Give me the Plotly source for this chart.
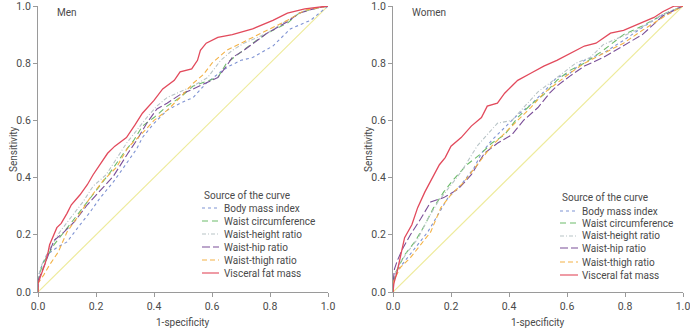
import plotly.graph_objects as go

# ---------------- data ----------------
series_names = ["Body mass index", "Waist circumference", "Waist-height ratio",
                "Waist-hip ratio", "Waist-thigh ratio", "Visceral fat mass"]
panel_titles = ["Men", "Women"]
tick_vals = [0.0, 0.2, 0.4, 0.6, 0.8, 1.0]
tick_text = ["0.0", "0.2", "0.4", "0.6", "0.8", "1.0"]
diag_x = [0, 1]
diag_y = [0, 1]

# Men
men_bmi_x = [0, 0, 0.014, 0.03, 0.065, 0.10, 0.145, 0.18, 0.215, 0.26, 0.295, 0.34, 0.36, 0.40, 0.445, 0.49, 0.535, 0.58, 0.63, 0.66, 0.70, 0.74, 0.81, 0.87, 0.94, 1]
men_bmi_y = [0, 0.05, 0.095, 0.13, 0.155, 0.175, 0.235, 0.28, 0.33, 0.385, 0.435, 0.50, 0.54, 0.59, 0.635, 0.66, 0.68, 0.73, 0.77, 0.79, 0.81, 0.82, 0.86, 0.92, 0.95, 1]
men_wc_x = [0, 0, 0.02, 0.055, 0.09, 0.135, 0.17, 0.215, 0.25, 0.295, 0.33, 0.36, 0.40, 0.445, 0.49, 0.535, 0.58, 0.62, 0.65, 0.70, 0.74, 0.79, 0.86, 0.90, 0.95, 1]
men_wc_y = [0, 0.05, 0.105, 0.165, 0.21, 0.27, 0.315, 0.375, 0.42, 0.485, 0.53, 0.58, 0.61, 0.65, 0.68, 0.72, 0.735, 0.75, 0.80, 0.84, 0.87, 0.905, 0.94, 0.975, 0.99, 1]
men_whtr_x = [0, 0, 0.013, 0.04, 0.075, 0.11, 0.155, 0.19, 0.235, 0.305, 0.34, 0.375, 0.41, 0.445, 0.49, 0.535, 0.585, 0.63, 0.67, 0.71, 0.79, 0.86, 0.92, 1]
men_whtr_y = [0, 0.05, 0.095, 0.15, 0.21, 0.255, 0.315, 0.37, 0.41, 0.52, 0.565, 0.61, 0.65, 0.68, 0.70, 0.72, 0.75, 0.81, 0.845, 0.87, 0.905, 0.95, 0.985, 1]
men_whr_x = [0, 0, 0.013, 0.03, 0.055, 0.09, 0.125, 0.17, 0.215, 0.26, 0.31, 0.34, 0.375, 0.41, 0.445, 0.49, 0.535, 0.58, 0.62, 0.65, 0.67, 0.71, 0.79, 0.86, 0.90, 0.95, 1]
men_whr_y = [0, 0.04, 0.07, 0.115, 0.18, 0.21, 0.245, 0.305, 0.355, 0.405, 0.485, 0.53, 0.59, 0.64, 0.66, 0.69, 0.71, 0.73, 0.75, 0.79, 0.82, 0.845, 0.905, 0.945, 0.975, 0.99, 1]
men_wthr_x = [0, 0, 0.02, 0.04, 0.07, 0.10, 0.135, 0.18, 0.225, 0.27, 0.31, 0.355, 0.40, 0.445, 0.49, 0.535, 0.57, 0.60, 0.65, 0.70, 0.74, 0.79, 0.86, 0.92, 1]
men_wthr_y = [0, 0.03, 0.06, 0.095, 0.14, 0.21, 0.26, 0.33, 0.39, 0.435, 0.505, 0.55, 0.60, 0.635, 0.68, 0.73, 0.76, 0.80, 0.845, 0.87, 0.89, 0.915, 0.95, 0.985, 1]
men_vfm_x = [0, 0, 0.007, 0.025, 0.035, 0.04, 0.065, 0.08, 0.10, 0.115, 0.145, 0.17, 0.19, 0.21, 0.24, 0.265, 0.305, 0.335, 0.36, 0.40, 0.43, 0.47, 0.49, 0.53, 0.55, 0.56, 0.58, 0.62, 0.67, 0.74, 0.81, 0.86, 0.92, 1]
men_vfm_y = [0, 0.03, 0.05, 0.10, 0.14, 0.165, 0.225, 0.24, 0.275, 0.305, 0.34, 0.375, 0.41, 0.44, 0.485, 0.51, 0.54, 0.585, 0.625, 0.67, 0.71, 0.74, 0.77, 0.78, 0.81, 0.845, 0.87, 0.89, 0.90, 0.92, 0.95, 0.975, 0.99, 1]

# Women
women_bmi_x = [0, 0, 0.015, 0.05, 0.085, 0.12, 0.155, 0.19, 0.235, 0.28, 0.305, 0.34, 0.385, 0.43, 0.475, 0.52, 0.565, 0.61, 0.66, 0.725, 0.795, 0.86, 0.93, 0.98, 1]
women_bmi_y = [0, 0.03, 0.075, 0.12, 0.165, 0.21, 0.27, 0.33, 0.375, 0.435, 0.485, 0.53, 0.575, 0.62, 0.655, 0.70, 0.75, 0.765, 0.81, 0.835, 0.88, 0.925, 0.97, 0.99, 1]
women_wc_x = [0, 0, 0.01, 0.04, 0.075, 0.11, 0.14, 0.175, 0.21, 0.255, 0.305, 0.34, 0.385, 0.43, 0.475, 0.52, 0.565, 0.61, 0.66, 0.725, 0.795, 0.86, 0.93, 1]
women_wc_y = [0, 0.03, 0.07, 0.13, 0.175, 0.235, 0.295, 0.35, 0.395, 0.445, 0.485, 0.52, 0.55, 0.61, 0.655, 0.69, 0.74, 0.775, 0.80, 0.845, 0.90, 0.93, 0.97, 1]
women_whtr_x = [0, 0, 0.02, 0.05, 0.085, 0.12, 0.155, 0.19, 0.235, 0.29, 0.325, 0.36, 0.41, 0.45, 0.50, 0.54, 0.585, 0.63, 0.68, 0.725, 0.77, 0.84, 0.92, 1]
women_whtr_y = [0, 0.04, 0.095, 0.14, 0.185, 0.255, 0.315, 0.36, 0.42, 0.51, 0.55, 0.59, 0.60, 0.645, 0.70, 0.73, 0.765, 0.80, 0.82, 0.865, 0.885, 0.915, 0.965, 1]
women_whr_x = [0, 0, 0.005, 0.015, 0.035, 0.06, 0.095, 0.13, 0.175, 0.225, 0.27, 0.315, 0.36, 0.41, 0.45, 0.50, 0.54, 0.565, 0.61, 0.66, 0.725, 0.795, 0.86, 0.93, 0.98, 1]
women_whr_y = [0, 0.03, 0.08, 0.11, 0.155, 0.20, 0.255, 0.315, 0.33, 0.36, 0.41, 0.485, 0.52, 0.55, 0.60, 0.645, 0.695, 0.72, 0.755, 0.79, 0.82, 0.86, 0.90, 0.965, 0.99, 1]
women_wthr_x = [0, 0.003, 0.025, 0.06, 0.095, 0.13, 0.165, 0.20, 0.245, 0.29, 0.34, 0.385, 0.43, 0.475, 0.52, 0.565, 0.61, 0.66, 0.725, 0.795, 0.86, 0.93, 1]
women_wthr_y = [0, 0.04, 0.085, 0.12, 0.165, 0.21, 0.295, 0.34, 0.385, 0.445, 0.51, 0.555, 0.60, 0.645, 0.695, 0.73, 0.765, 0.80, 0.835, 0.87, 0.915, 0.96, 1]
women_vfm_x = [0, 0.003, 0.014, 0.024, 0.04, 0.065, 0.085, 0.11, 0.135, 0.16, 0.18, 0.20, 0.235, 0.27, 0.305, 0.325, 0.36, 0.385, 0.41, 0.43, 0.475, 0.52, 0.565, 0.61, 0.66, 0.70, 0.75, 0.795, 0.84, 0.90, 0.93, 0.97, 1]
women_vfm_y = [0, 0.03, 0.07, 0.12, 0.19, 0.235, 0.295, 0.35, 0.40, 0.445, 0.47, 0.51, 0.54, 0.58, 0.61, 0.65, 0.66, 0.695, 0.72, 0.74, 0.765, 0.79, 0.81, 0.835, 0.86, 0.87, 0.905, 0.915, 0.935, 0.96, 0.98, 1.0, 1]

# ---------------- styles ----------------
colors = ["#7f93d3", "#6dbb6a", "#b7c3c6", "#7b4f98", "#f3b246", "#e24a5c"]
dashes = ["dot", "6px,4px", "4px,2px,1px,2px", "8px,3px", "5px,3px", "solid"]
diag_color = "#eeeb9c"
axis_color = "#9a9a9a"
text_color = "#4a4a4a"
FONT = "Roboto, Liberation Sans, sans-serif"
FS = 10

men = [(men_bmi_x, men_bmi_y), (men_wc_x, men_wc_y), (men_whtr_x, men_whtr_y),
       (men_whr_x, men_whr_y), (men_wthr_x, men_wthr_y), (men_vfm_x, men_vfm_y)]
women = [(women_bmi_x, women_bmi_y), (women_wc_x, women_wc_y), (women_whtr_x, women_whtr_y),
         (women_whr_x, women_whr_y), (women_wthr_x, women_wthr_y), (women_vfm_x, women_vfm_y)]

W, H = 690, 331
fig = go.Figure()

panels = [
    dict(data=men, xa="x", ya="y", x0=38, x1=328),
    dict(data=women, xa="x2", ya="y2", x0=393, x1=683),
]
y_top, y_bot = 6, 292

for p in panels:
    fig.add_trace(go.Scatter(x=diag_x, y=diag_y, mode="lines", xaxis=p["xa"], yaxis=p["ya"],
                             line=dict(color=diag_color, width=1.2), showlegend=False,
                             hoverinfo="skip", cliponaxis=False))
    for i, (xs, ys) in enumerate(p["data"]):
        fig.add_trace(go.Scatter(x=xs, y=ys, mode="lines", xaxis=p["xa"], yaxis=p["ya"],
                                 name=series_names[i], showlegend=False, cliponaxis=False,
                                 line=dict(color=colors[i], width=1.3 if i == 5 else 1.1, dash=dashes[i])))

def px_x(v):
    return v / W

def px_y(v):
    return 1 - v / H

axis_common = dict(range=[0, 1], tickvals=tick_vals, ticktext=tick_text, showgrid=False,
                   zeroline=False, showline=True, linecolor=axis_color, linewidth=1,
                   ticks="outside", ticklen=4, tickcolor=axis_color, tickwidth=1,
                   tickfont=dict(family=FONT, size=FS + 0.5, color=text_color), automargin=False,
                   fixedrange=True, ticklabeloverflow="allow")

ydom = [px_y(y_bot), px_y(y_top)]
fig.update_layout(
    width=W, height=H, margin=dict(l=0, r=0, t=0, b=0),
    paper_bgcolor="white", plot_bgcolor="white", showlegend=False,
    xaxis=dict(domain=[px_x(panels[0]["x0"]), px_x(panels[0]["x1"])], anchor="y", **axis_common),
    yaxis=dict(domain=ydom, anchor="x", **axis_common),
    xaxis2=dict(domain=[px_x(panels[1]["x0"]), px_x(panels[1]["x1"])], anchor="y2", **axis_common),
    yaxis2=dict(domain=ydom, anchor="x2", **axis_common),
    font=dict(family=FONT, color=text_color),
)

annotations = []
shapes = []
legend_cfg = [
    dict(title_x=202, title_y=195, item_y=[208, 221, 234, 247, 260, 273], s0=202, s1=219, tx=222),
    dict(title_x=560, title_y=197, item_y=[211, 223, 236, 248, 262, 275], s0=560, s1=578, tx=580),
]
for k, p in enumerate(panels):
    cx = (p["x0"] + p["x1"]) / 2
    annotations.append(dict(text="1-specificity", x=px_x(cx), y=px_y(322), xref="paper", yref="paper",
                            showarrow=False, xanchor="center", yanchor="middle",
                            font=dict(family=FONT, size=FS, color=text_color)))
    annotations.append(dict(text="Sensitivity", x=px_x(p["x0"] - 25), y=px_y(149), xref="paper", yref="paper",
                            showarrow=False, xanchor="center", yanchor="middle", textangle=-90,
                            font=dict(family=FONT, size=FS, color=text_color)))
    annotations.append(dict(text=panel_titles[k], x=px_x(p["x0"] + 17), y=px_y(12), xref="paper", yref="paper",
                            showarrow=False, xanchor="left", yanchor="middle",
                            font=dict(family=FONT, size=FS, color=text_color)))
    lg = legend_cfg[k]
    annotations.append(dict(text="Source of the curve", x=px_x(lg["title_x"]), y=px_y(lg["title_y"]),
                            xref="paper", yref="paper", showarrow=False, xanchor="left", yanchor="middle",
                            font=dict(family=FONT, size=FS, color=text_color)))
    for i, yy in enumerate(lg["item_y"]):
        shapes.append(dict(type="line", xref="paper", yref="paper",
                           x0=px_x(lg["s0"]), x1=px_x(lg["s1"]), y0=px_y(yy), y1=px_y(yy),
                           line=dict(color=colors[i], width=1.1, dash=dashes[i])))
        annotations.append(dict(text=series_names[i], x=px_x(lg["tx"]), y=px_y(yy),
                                xref="paper", yref="paper", showarrow=False, xanchor="left",
                                yanchor="middle", font=dict(family=FONT, size=FS, color=text_color)))

fig.update_layout(annotations=annotations, shapes=shapes)
fig.write_html("out.html", config={"displayModeBar": False},
               post_script="document.body.style.margin='0px';document.body.style.overflow='hidden';")
